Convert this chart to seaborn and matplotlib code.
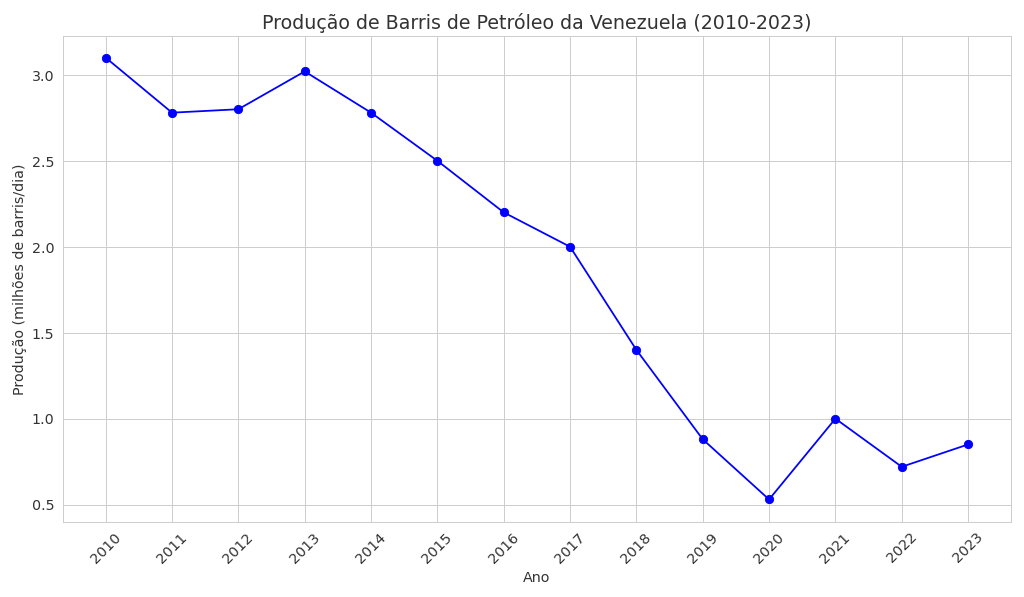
import pandas as pd
import matplotlib.pyplot as plt
import seaborn as sns

anos = [2010, 2011, 2012, 2013, 2014, 2015, 2016, 2017, 2018, 2019, 2020, 2021, 2022, 2023]
producao = [3.10, 2.78, 2.80, 3.02, 2.78, 2.50, 2.20, 2.00, 1.40, 0.88, 0.53, 1.00, 0.72, 0.85]

df = pd.DataFrame({'Ano': anos, 'Produção': producao})

sns.set_style('whitegrid')

plt.figure(figsize=(12, 7), dpi=1024 / 12)
ax = sns.lineplot(data=df, x='Ano', y='Produção', marker='o', color='blue',
                  markeredgecolor='blue', markersize=7, linewidth=1.5)
plt.title('Produção de Barris de Petróleo da Venezuela (2010-2023)', fontsize=16, color='#333333')
plt.xlabel('Ano', fontsize=12, color='#333333')
plt.ylabel('Produção (milhões de barris/dia)', fontsize=12, color='#333333')
plt.xticks(anos, rotation=45, fontsize=12, color='#333333')
plt.yticks(fontsize=12, color='#333333')
plt.tight_layout()

plt.savefig('out.png', dpi=1024 / 12)
